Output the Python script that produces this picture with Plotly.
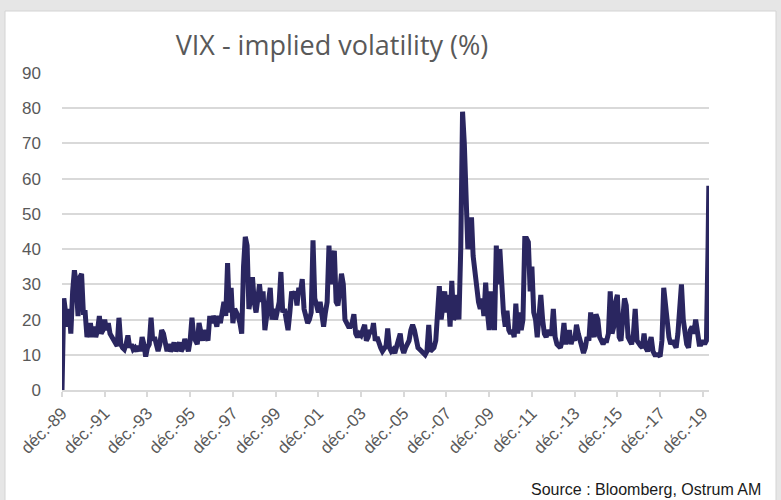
import pandas as pd
import plotly.graph_objects as go

# Monthly VIX levels (Dec 1989 .. Feb 2020)
vix_1989_1990 = [0, 26, 22, 18, 23, 16, 28, 34, 30, 21, 32, 33, 22]
vix_1991 = [22, 15, 17, 19, 15, 18, 15, 17, 21, 16, 17, 20]
vix_1992 = [17, 19, 16, 15, 14, 13, 12.5, 20.5, 13, 12, 11.5, 13]
vix_1993 = [15.5, 12, 13, 11.5, 12, 11, 12.5, 11, 15, 13, 9.5, 12]
vix_1994 = [13, 20.5, 14, 15, 12, 11, 13, 17, 16, 12.5, 11, 13]
vix_1995 = [11, 12, 13.5, 11, 12, 13.5, 11, 12, 14.5, 12, 11, 14]
vix_1996 = [20.5, 15, 14, 13, 19, 16, 14, 17, 15, 14, 21, 19]
vix_1997 = [21, 20, 18, 21, 19, 22, 25, 21, 36, 22, 29, 19]
vix_1998 = [23, 22, 21, 19, 16, 35, 43.5, 41, 23, 26, 32, 25]
vix_1999 = [22, 26, 30, 25, 28, 17, 22, 25, 29, 20, 23, 20]
vix_2000 = [22, 25, 33.5, 22, 23, 20, 17, 22, 28, 26, 28, 24]
vix_2001 = [29, 28, 31.5, 23, 21, 19, 20, 22, 42.5, 26, 24, 22]
vix_2002 = [25, 21, 18, 22, 25, 41, 30, 37, 39.5, 25, 24, 28]
vix_2003 = [33, 30, 20, 19, 18, 18, 19, 21.5, 16, 15, 16, 15.5]
vix_2004 = [17, 18.5, 14, 15, 17, 16, 19, 14, 15, 13, 12, 11]
vix_2005 = [12, 12.5, 17.5, 12, 11, 11.5, 10.5, 12, 14, 16, 12, 10.5]
vix_2006 = [12, 13, 14, 17, 18.5, 17, 15, 12, 11.5, 11, 10.5, 10]
vix_2007 = [11, 18.5, 11, 11.5, 12, 14, 20, 29.5, 20, 24, 28, 22]
vix_2008 = [27, 18, 31, 20, 21, 27, 20, 40, 79, 70, 55, 40]
vix_2009 = [44, 49, 38, 33, 30, 25, 23, 26, 21, 30.5, 22, 17]
vix_2010 = [28, 20, 17, 41, 30, 40, 27, 22, 18, 22.5, 17, 16]
vix_2011 = [17, 15, 24.5, 16, 22, 17, 20, 43, 43, 42, 28, 35]
vix_2012 = [22, 20, 15, 20, 27, 20, 16, 15, 17, 16, 16, 23]
vix_2013 = [15, 13, 12.5, 12, 14, 19, 13, 16, 17, 13, 15, 14]
vix_2014 = [18.5, 16, 14, 13, 10.5, 12, 15, 14, 22, 17, 15, 21.5]
vix_2015 = [20, 15, 14, 13, 14, 14, 16, 28, 16, 18, 25, 27]
vix_2016 = [15, 14, 20, 26, 24, 15, 14, 13, 16, 23, 14, 13]
vix_2017 = [12.5, 12, 16, 12, 11, 13, 15, 11, 10, 10, 10, 9.5]
vix_2018 = [14, 29, 24, 18, 15, 13, 14, 13, 12, 16, 22, 30]
vix_2019 = [20, 15, 13, 12, 17, 18, 16, 20, 15, 13, 13, 14]
vix_2020 = [13, 14]

# Late weekly points of the Covid spike
spike_dates = ["2020-02-28", "2020-03-13"]
spike_values = [40, 58]

tick_dates = ["1989-12-01", "1991-12-01", "1993-12-01", "1995-12-01", "1997-12-01",
              "1999-12-01", "2001-12-01", "2003-12-01", "2005-12-01", "2007-12-01",
              "2009-12-01", "2011-12-01", "2013-12-01", "2015-12-01", "2017-12-01",
              "2019-12-01"]
tick_labels = ["déc.-89", "déc.-91", "déc.-93", "déc.-95", "déc.-97", "déc.-99",
               "déc.-01", "déc.-03", "déc.-05", "déc.-07", "déc.-09", "déc.-11",
               "déc.-13", "déc.-15", "déc.-17", "déc.-19"]

monthly = (vix_1989_1990 + vix_1991 + vix_1992 + vix_1993 + vix_1994 + vix_1995 +
           vix_1996 + vix_1997 + vix_1998 + vix_1999 + vix_2000 + vix_2001 + vix_2002 +
           vix_2003 + vix_2004 + vix_2005 + vix_2006 + vix_2007 + vix_2008 + vix_2009 +
           vix_2010 + vix_2011 + vix_2012 + vix_2013 + vix_2014 + vix_2015 + vix_2016 +
           vix_2017 + vix_2018 + vix_2019 + vix_2020)
dates = list(pd.date_range(start="1989-12-01", periods=len(monthly), freq="MS").strftime("%Y-%m-%d"))
x = dates + spike_dates
y = monthly + spike_values

fig = go.Figure()
fig.add_trace(go.Scatter(x=x, y=y, mode="lines",
                         line=dict(color="#2A2660", width=5),
                         hoverinfo="skip", showlegend=False))

grey_txt = "#595959"
fig.update_layout(
    width=781, height=500,
    paper_bgcolor="#E6E6E6",
    plot_bgcolor="rgba(0,0,0,0)",
    margin=dict(l=62, r=72, t=73, b=110),
    title=dict(text="VIX - implied volatility (%)", x=332 / 781, xanchor="center",
               y=1 - 46 / 500, yanchor="middle", yref="container", xref="container",
               font=dict(family="Open Sans", size=27, color=grey_txt)),
    shapes=[dict(type="rect", xref="paper", yref="paper", layer="below",
                 x0=-57 / 647, x1=(776 - 62) / 647, y0=-111 / 317, y1=(390 - 11) / 317,
                 fillcolor="white", line=dict(color="#D4D4D4", width=1))],
    annotations=[dict(text="Source : Bloomberg, Ostrum AM", xref="paper", yref="paper",
                      x=(763 - 62) / 647, y=-(489 - 390) / 317, xanchor="right",
                      yanchor="middle", showarrow=False,
                      font=dict(family="Liberation Sans", size=16, color="#1A1A1A"))],
)
fig.update_xaxes(
    type="date", range=["1989-12-01", "2020-03-16"],
    tickmode="array", tickvals=tick_dates, ticktext=tick_labels, tickangle=-45,
    tickfont=dict(family="Liberation Sans", size=17, color=grey_txt),
    showgrid=False, showline=True, linecolor="#D9D9D9", linewidth=1.5,
    ticks="outside", ticklen=5, tickcolor="#D9D9D9", tickwidth=1.5, zeroline=False,
)
fig.update_yaxes(
    range=[0, 90], tickmode="linear", tick0=0, dtick=10,
    tickfont=dict(family="Liberation Sans", size=17, color=grey_txt),
    showgrid=True, gridcolor="#D9D9D9", gridwidth=1.5, zeroline=False,
    ticks="", ticklabelstandoff=20,
)
fig.write_html("out.html", config={"displayModeBar": False},
               post_script="document.body.style.margin='0px';document.body.style.overflow='hidden';")
